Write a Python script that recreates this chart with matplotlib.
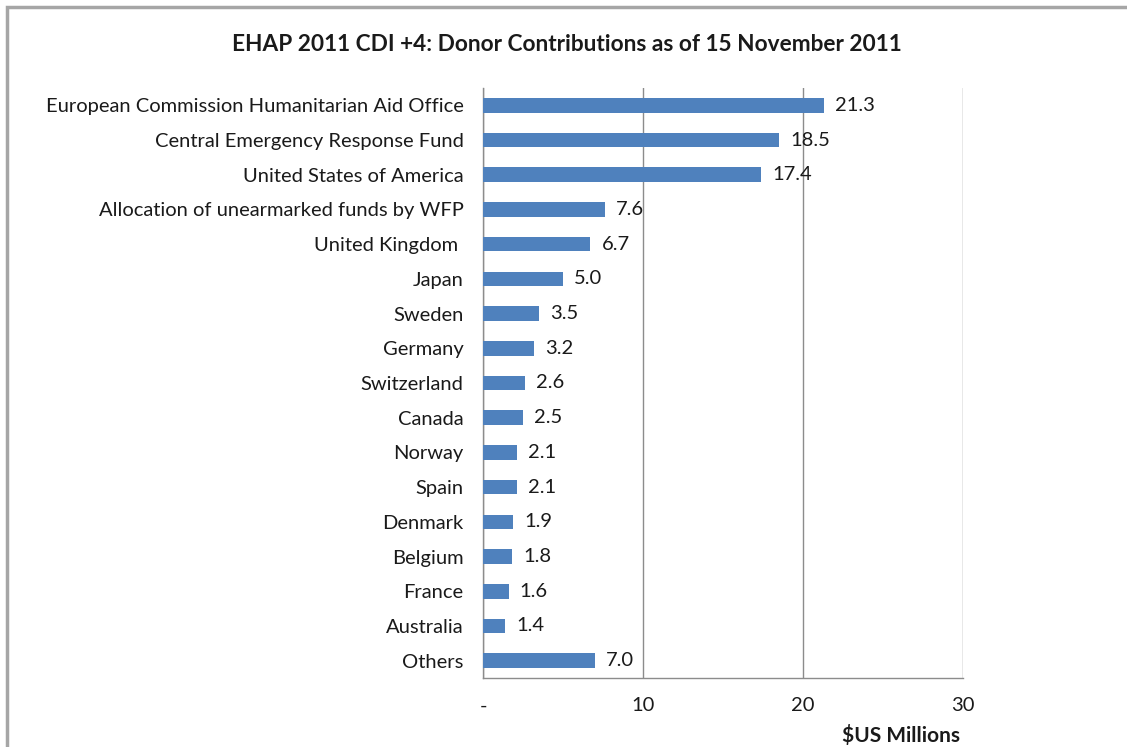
import matplotlib
matplotlib.use("Agg")
import matplotlib.pyplot as plt
from matplotlib.patches import Rectangle

# Data (urutan atas -> bawah)
donors = [
    "European Commission Humanitarian Aid Office",
    "Central Emergency Response Fund",
    "United States of America",
    "Allocation of unearmarked funds by WFP",
    "United Kingdom ",
    "Japan",
    "Sweden",
    "Germany",
    "Switzerland",
    "Canada",
    "Norway",
    "Spain",
    "Denmark",
    "Belgium",
    "France",
    "Australia",
    "Others",
]
amounts = [21.3, 18.5, 17.4, 7.6, 6.7, 5.0, 3.5, 3.2, 2.6, 2.5, 2.1, 2.1, 1.9, 1.8, 1.6, 1.4, 7.0]
x_ticks = [0, 10, 20, 30]
x_tick_labels = ["-", "10", "20", "30"]

BAR_COLOR = "#4F81BD"
TEXT_COLOR = "#1a1a1a"
FS = 14.5
plt.rcParams["font.family"] = ["Lato", "DejaVu Sans"]

fig = plt.figure(figsize=(11.27, 7.47), dpi=100)
ax = fig.add_axes([0.4286, 0.0924, 0.8545 - 0.4286, 0.8822 - 0.0924])

pos = list(range(len(donors)))
ax.barh(pos, amounts, height=0.42, color=BAR_COLOR, zorder=3)
for p, v in zip(pos, amounts):
    ax.text(v + 0.7, p, f"{v:.1f}", va="center", ha="left",
            fontsize=FS, color=TEXT_COLOR, zorder=4)

ax.set_ylim(len(donors) - 0.5, -0.5)
ax.set_xlim(0, 30)
ax.set_yticks(pos)
ax.set_yticklabels(donors, fontsize=FS, color=TEXT_COLOR)
ax.set_xticks(x_ticks)
ax.set_xticklabels(x_tick_labels, fontsize=FS, color=TEXT_COLOR)
ax.tick_params(axis="both", length=0)
ax.tick_params(axis="x", pad=14)
ax.tick_params(axis="y", pad=14)

ax.grid(axis="x", color="#8c8c8c", linewidth=1, zorder=0)
for s in ["top", "right"]:
    ax.spines[s].set_visible(False)
for s in ["left", "bottom"]:
    ax.spines[s].set_color("#8c8c8c")
    ax.spines[s].set_linewidth(1)

fig.text(0.503, 0.941, "EHAP 2011 CDI +4: Donor Contributions as of 15 November 2011",
         ha="center", va="center", fontsize=16.3, fontweight="bold", color=TEXT_COLOR)
fig.text(0.852, 0.016, r"\$US Millions", ha="right", va="center",
         fontsize=15, fontweight="bold", color=TEXT_COLOR)

# bingkai abu-abu (kiri & atas)
fig.add_artist(Rectangle((0.0062, -0.1), 1.2, 1.09, transform=fig.transFigure,
                         fill=False, edgecolor="#a6a6a6", linewidth=2.5))

fig.savefig("out.png", dpi=100, facecolor="white")
